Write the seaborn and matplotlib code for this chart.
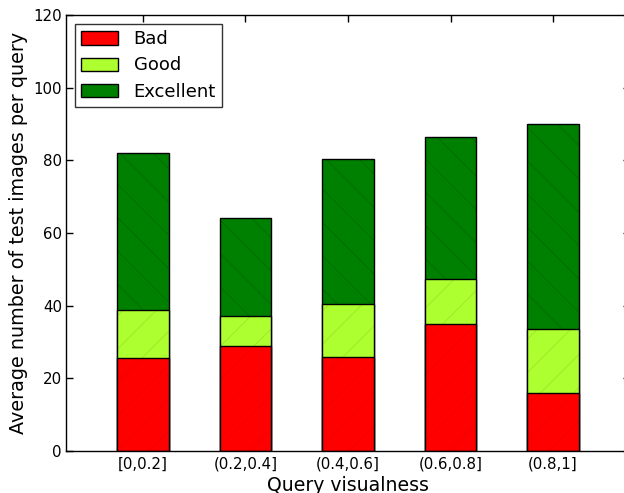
import matplotlib
matplotlib.use("Agg")
import matplotlib.pyplot as plt
import seaborn as sns
import numpy as np
import pandas as pd
from matplotlib.patches import Patch
from matplotlib.colors import to_rgba

categories = ["[0,0.2]", "(0.2,0.4]", "(0.4,0.6]", "(0.6,0.8]", "(0.8,1]"]
bad = [25.6, 28.9, 25.9, 35.0, 16.0]
good = [13.2, 8.3, 14.6, 12.3, 17.6]
excellent = [43.2, 26.9, 39.9, 39.1, 56.4]

sns.set_style("white")
plt.rcParams["font.family"] = ["DejaVu Sans"]
plt.rcParams["hatch.linewidth"] = 0.6
plt.rcParams["text.color"] = "black"
plt.rcParams["axes.labelcolor"] = "black"
plt.rcParams["xtick.color"] = "black"
plt.rcParams["ytick.color"] = "black"

fig = plt.figure(figsize=(6.24, 4.93), dpi=100)
ax = fig.add_axes([66/624, 42/493, 564/624, 436/493])

bad_a = np.array(bad)
good_top = bad_a + np.array(good)
exc_top = good_top + np.array(excellent)

layers = [
    (exc_top, "#008000", "\\", "#006c00"),
    (good_top, "#adff2f", "/", "#9ee52c"),
    (bad_a, "#ff0000", "/", "#f00000"),
]
for vals, col, hatch, hc in layers:
    df = pd.DataFrame({"cat": categories, "val": vals})
    n_before = len(ax.patches)
    sns.barplot(data=df, x="cat", y="val", color=col, width=0.5, ax=ax,
                edgecolor="black", linewidth=1.0, saturation=1, errorbar=None)
    for p in ax.patches[n_before:]:
        p.set_edgecolor("black")
        p.set_hatch(hatch)
        p._hatch_color = to_rgba(hc)
        p.stale = True

ax.set_xlim(-0.75, 4.75)
ax.set_ylim(0, 120)
ax.set_yticks(range(0, 121, 20))
ax.set_xlabel("Query visualness", fontsize=13.6, labelpad=3)
ax.set_ylabel("Average number of test images per query", fontsize=13.8, labelpad=4)
ax.tick_params(axis="both", direction="in", length=5, width=1, labelsize=10.8,
               top=True, right=True, bottom=True, left=True, pad=3)
ax.tick_params(axis="x", pad=4)
for s in ax.spines.values():
    s.set_visible(True)
    s.set_color("black")
    s.set_linewidth(1.0)

handles = [Patch(facecolor="#ff0000", edgecolor="black", label="Bad"),
           Patch(facecolor="#adff2f", edgecolor="black", label="Good"),
           Patch(facecolor="#008000", edgecolor="black", label="Excellent")]
leg = ax.legend(handles=handles, loc="upper left", fontsize=13, frameon=True,
                fancybox=False, edgecolor="black", handlelength=2.05, handleheight=0.75,
                borderpad=0.35, labelspacing=0.45, handletextpad=0.85,
                borderaxespad=0.5)
leg.get_frame().set_linewidth(1.0)

fig.savefig("out.png", dpi=100)
